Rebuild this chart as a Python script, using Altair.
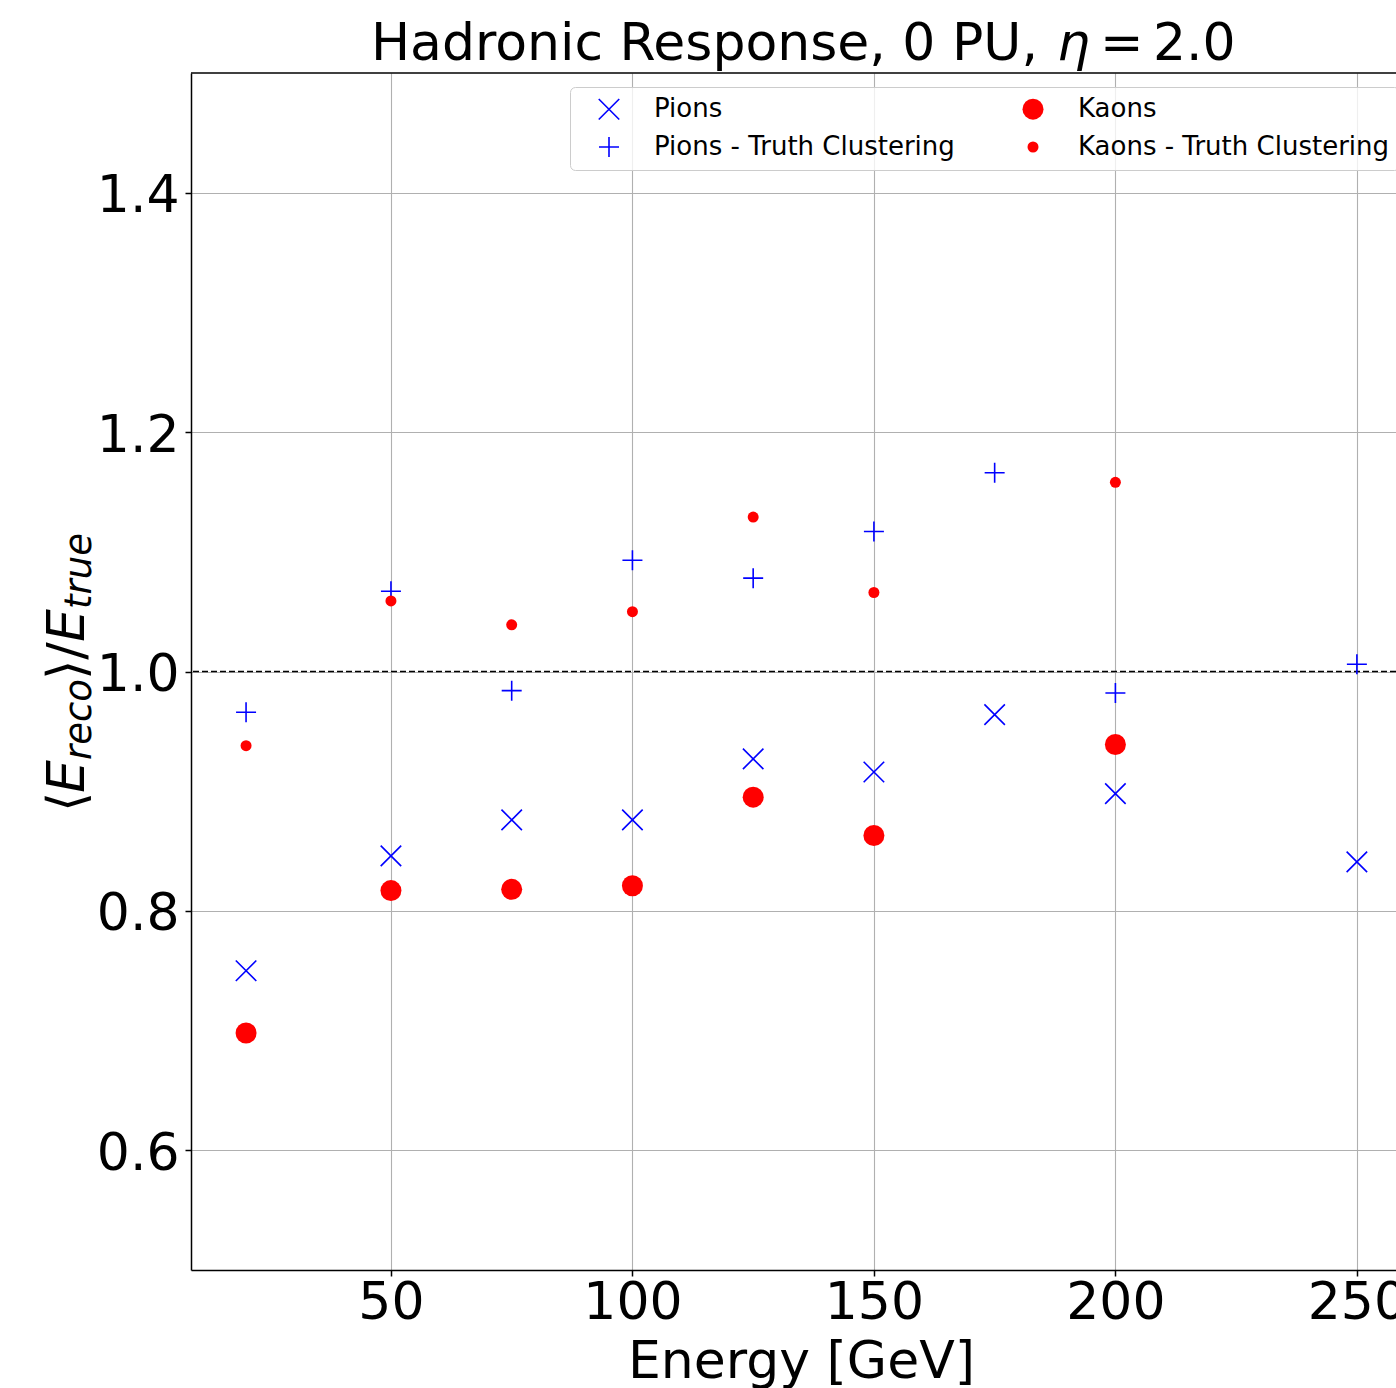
import altair as alt
import pandas as pd

# ---- data ----
energy_pions = [20, 50, 75, 100, 125, 150, 175, 200, 250]
pions = [0.750, 0.846, 0.876, 0.876, 0.927, 0.916, 0.964, 0.898, 0.841]
pions_truth = [0.966, 1.067, 0.984, 1.093, 1.078, 1.117, 1.166, 0.982, 1.006]

energy_kaons = [20, 50, 75, 100, 125, 150, 200]
kaons = [0.698, 0.817, 0.818, 0.821, 0.895, 0.863, 0.939]
kaons_truth = [0.938, 1.059, 1.039, 1.050, 1.129, 1.066, 1.158]

series_names = ["Pions", "Pions - Truth Clustering", "Kaons", "Kaons - Truth Clustering"]
x_ticks = [50, 100, 150, 200, 250]
y_ticks = [0.6, 0.8, 1.0, 1.2, 1.4]

title_parts = ["Hadronic Response, 0 PU,", "η", "=", "2.0"]
ytitle_parts = ["⟨", "E", "reco", "⟩/", "E", "true"]

rows = []
for e, v in zip(energy_pions, pions):
    rows.append({"series": "Pions", "energy": e, "value": v})
for e, v in zip(energy_pions, pions_truth):
    rows.append({"series": "Pions - Truth Clustering", "energy": e, "value": v})
for e, v in zip(energy_kaons, kaons):
    rows.append({"series": "Kaons", "energy": e, "value": v})
for e, v in zip(energy_kaons, kaons_truth):
    rows.append({"series": "Kaons - Truth Clustering", "energy": e, "value": v})
df = pd.DataFrame(rows)

X_PATH = "M-1,-1L1,1M-1,1L1,-1"
PLUS_PATH = "M-1,0L1,0M0,-1L0,1"

FONT = "DejaVu Sans"

leg = alt.Legend(
    title=None, orient="none", legendX=379, legendY=14, columns=2,
    labelFont=FONT, labelFontSize=26, labelColor="black", labelLimit=800,
    padding=9, symbolOffset=17, labelOffset=32, columnPadding=48, rowPadding=10,
    strokeColor="#cccccc", fillColor="rgba(255,255,255,0.8)", cornerRadius=5,
    symbolStrokeWidth=1.6,
)

x_scale = alt.Scale(domain=[8.6, 258.1], nice=False, zero=False)
y_scale = alt.Scale(domain=[0.5, 1.5], nice=False, zero=False)

points = alt.Chart(df).mark_point(opacity=1, strokeWidth=1.6).encode(
    x=alt.X("energy:Q", scale=x_scale,
            axis=alt.Axis(values=x_ticks, format="d", title="Energy [GeV]",
                          labelFlush=False, labelPadding=1,
                          titleX=610, titleY=107, titleBaseline="alphabetic",
                          titleAlign="center")),
    y=alt.Y("value:Q", scale=y_scale,
            axis=alt.Axis(values=y_ticks, format=".1f", title=None,
                          labelPadding=6, labelOffset=3)),
    shape=alt.Shape("series:N", scale=alt.Scale(domain=series_names,
                    range=[X_PATH, PLUS_PATH, "circle", "circle"]), legend=leg),
    size=alt.Size("series:N", scale=alt.Scale(type="ordinal", domain=series_names,
                  range=[420, 400, 441, 121]), legend=leg),
    fill=alt.Fill("series:N", scale=alt.Scale(domain=series_names,
                  range=["transparent", "transparent", "#ff0000", "#ff0000"]), legend=leg),
    stroke=alt.Stroke("series:N", scale=alt.Scale(domain=series_names,
                      range=["#0000ff", "#0000ff", "transparent", "transparent"]), legend=leg),
)

one = pd.DataFrame({"a": [0]})

ref_line = alt.Chart(one).mark_rule(color="black", strokeWidth=1.7, strokeDash=[6, 3]).encode(
    y=alt.Y(datum=1.0, scale=y_scale)
)
top_spine = alt.Chart(one).mark_rule(color="black", strokeWidth=1.5).encode(
    y=alt.Y(datum=1.5, scale=y_scale)
)


def txt(s, x, y, size, italic=False, angle=0):
    props = dict(text=s, align="left", baseline="alphabetic", font=FONT,
                 fontSize=size, color="black")
    if italic:
        props["fontStyle"] = "italic"
    if angle:
        props["angle"] = angle
    return alt.Chart(one).mark_text(**props).encode(x=alt.value(x), y=alt.value(y))


# title pieces (positions relative to plot origin at 191,73)
t_layers = [
    txt(title_parts[0], 180, -13, 52),
    txt(title_parts[1], 866, -13, 52, italic=True),
    txt(title_parts[2], 909, -13, 52),
    txt(title_parts[3], 962, -13, 52),
]

# y axis title pieces, rotated
MAIN_X = -107
SUB_X = -100
y_layers = [
    txt(ytitle_parts[0], MAIN_X, 812 - 73, 52, angle=270),
    txt(ytitle_parts[1], MAIN_X, 793 - 73, 52, italic=True, angle=270),
    txt(ytitle_parts[2], SUB_X, 760 - 73, 37, italic=True, angle=270),
    txt(ytitle_parts[3], MAIN_X, 680 - 73, 52, angle=270),
    txt(ytitle_parts[4], MAIN_X, 642 - 73, 52, italic=True, angle=270),
    txt(ytitle_parts[5], SUB_X, 609 - 73, 37, italic=True, angle=270),
]

chart = alt.layer(ref_line, top_spine, points, *t_layers, *y_layers).properties(
    width=1205, height=1197,
    autosize=alt.AutoSizeParams(type="none"),
    padding={"left": 191, "top": 73, "right": 0, "bottom": 118},
).configure_view(stroke=None).configure_axis(
    labelFont=FONT, labelFontSize=52, labelColor="black",
    titleFont=FONT, titleFontSize=52, titleFontWeight="normal", titleColor="black",
    domainColor="black", domainWidth=1.5, tickColor="black", tickWidth=1.5, tickSize=6,
    gridColor="#b0b0b0", gridWidth=1.1, grid=True,
)

chart.save("out.html", embed_options={"renderer": "svg", "actions": False})
